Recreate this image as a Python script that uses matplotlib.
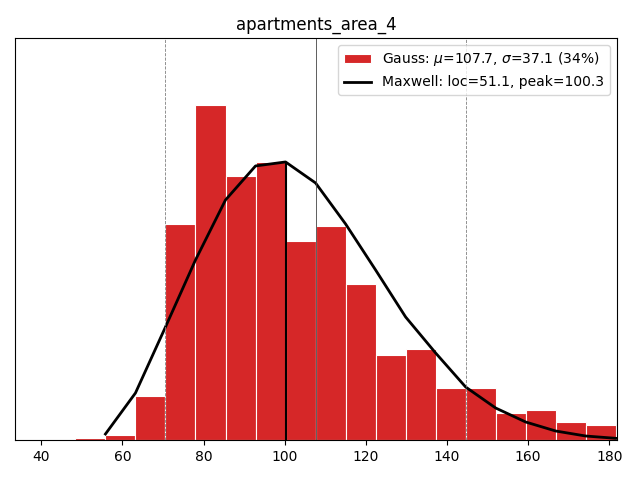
import numpy as np
import matplotlib.pyplot as plt

# histogram (relative heights)
edges = [48.4, 55.8, 63.2, 70.6, 78.0, 85.4, 92.8, 100.2, 107.6, 115.0,
         122.4, 129.8, 137.2, 144.6, 152.0, 159.4, 166.8, 174.2, 181.6]
heights = [2, 5, 44, 216, 335, 264, 278, 199, 214, 156,
           85, 91, 52, 52, 27, 30, 18, 15]

# maxwell fit, sampled at the bin edges
fit_x = [55.8, 63.2, 70.6, 78.0, 85.4, 92.8, 100.2, 107.6, 115.0, 122.4,
         129.8, 137.2, 144.6, 152.0, 159.4, 166.8, 174.2, 181.6]
fit_y = [6, 47, 113, 180, 240, 274, 278, 257, 216, 170,
         123, 87, 53, 32, 18, 9, 4, 1.7]

mu, sigma, frac = 107.7, 37.1, 34
loc, peak = 51.1, 100.3
peak_y = 278

fig, ax = plt.subplots(figsize=(6.4, 4.8), dpi=100)
fig.subplots_adjust(left=0.0234, right=0.964, top=0.921, bottom=0.0833)

widths = np.diff(edges)
bars = ax.bar(edges[:-1], heights, width=widths, align='edge', color='tab:red',
              edgecolor='white', linewidth=0.8)
line, = ax.plot(fit_x, fit_y, color='black', lw=2)

ax.axvline(mu, color='#444444', lw=0.6)
ax.axvline(mu - sigma, color='gray', lw=0.6, ls='--')
ax.axvline(mu + sigma, color='gray', lw=0.6, ls='--')
ax.vlines(peak, 0, peak_y, color='black', lw=1.5)

ax.set_xlim(mu - 2 * sigma, mu + 2 * sigma)
ax.set_ylim(0, 1.2 * max(heights))
ax.set_yticks([])
ax.set_title('apartments_area_4')
ax.legend([bars, line],
          ['Gauss: $\\mu$=%.1f, $\\sigma$=%.1f (%d%%)' % (mu, sigma, frac),
           'Maxwell: loc=%.1f, peak=%.1f' % (loc, peak)],
          loc='upper right')

plt.savefig('out.png')
